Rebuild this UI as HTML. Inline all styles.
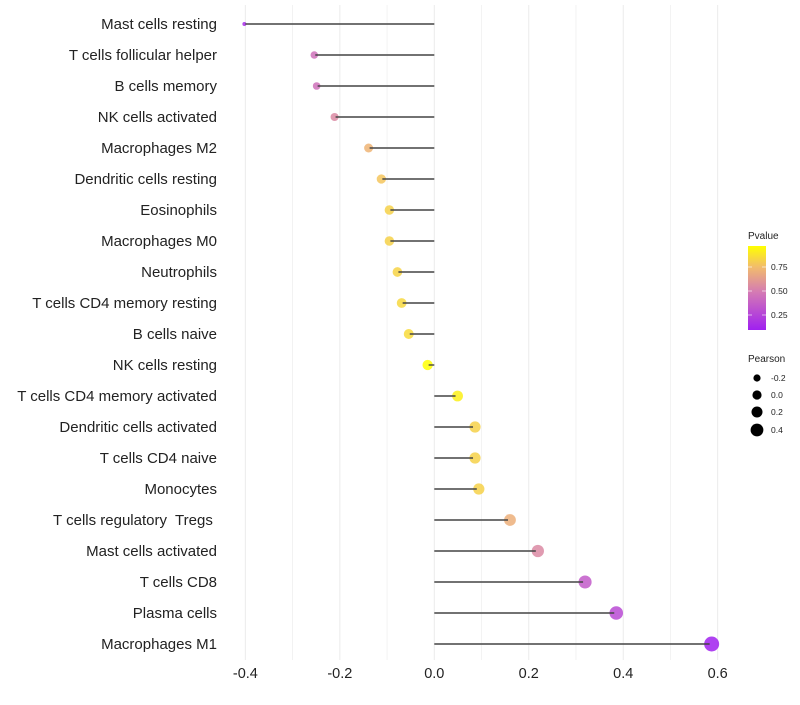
<!DOCTYPE html>
<html><head><meta charset="utf-8"><style>
body{margin:0;background:#fff;}
svg text{font-family:"Liberation Sans",sans-serif;white-space:pre;}
</style></head><body>
<svg id="chart" width="800" height="700" xmlns="http://www.w3.org/2000/svg">
<defs><linearGradient id="pg" x1="0" y1="1" x2="0" y2="0">
<stop offset="0" stop-color="#a020f0"/><stop offset="0.45" stop-color="#d47ab4"/><stop offset="0.75" stop-color="#f2bc6c"/><stop offset="1" stop-color="#ffff00"/></linearGradient></defs>
<g id="grid"></g><g id="marks"></g><g id="labels"></g>
<g>
<text x="748" y="239" font-size="10" fill="#222">Pvalue</text>
<rect x="748" y="246" width="18" height="84" fill="url(#pg)"/>
<g fill="#222" font-size="8.5">
<text x="771" y="270">0.75</text><text x="771" y="294">0.50</text><text x="771" y="318">0.25</text></g>
<g stroke="#fff" stroke-opacity="0.6"><line x1="748" x2="752" y1="267" y2="267"/><line x1="762" x2="766" y1="267" y2="267"/><line x1="748" x2="752" y1="291" y2="291"/><line x1="762" x2="766" y1="291" y2="291"/><line x1="748" x2="752" y1="315" y2="315"/><line x1="762" x2="766" y1="315" y2="315"/></g>
<text x="748" y="362" font-size="10" fill="#222">Pearson</text>
<g fill="#000"><circle cx="757" cy="378" r="3.6"/><circle cx="757" cy="395" r="4.6"/><circle cx="757" cy="412" r="5.5"/><circle cx="757" cy="430" r="6.4"/></g>
<g fill="#222" font-size="8.5"><text x="771" y="381">-0.2</text><text x="771" y="398">0.0</text><text x="771" y="415">0.2</text><text x="771" y="433">0.4</text></g>
</g>
</svg>
<script>
const categories=["Mast cells resting","T cells follicular helper","B cells memory","NK cells activated","Macrophages M2","Dendritic cells resting","Eosinophils","Macrophages M0","Neutrophils","T cells CD4 memory resting","B cells naive","NK cells resting","T cells CD4 memory activated","Dendritic cells activated","T cells CD4 naive","Monocytes","T cells regulatory  Tregs ","Mast cells activated","T cells CD8","Plasma cells","Macrophages M1"];
const pearson=[-0.400,-0.252,-0.247,-0.209,-0.137,-0.110,-0.093,-0.093,-0.076,-0.067,-0.052,-0.012,0.045,0.082,0.082,0.090,0.156,0.215,0.315,0.381,0.583];
const pvalues=[0.15,0.45,0.45,0.55,0.72,0.78,0.82,0.82,0.83,0.84,0.85,0.97,0.92,0.82,0.82,0.82,0.70,0.55,0.35,0.28,0.10];
const xTicks=[-0.4,-0.2,0.0,0.2,0.4,0.6];
const xTickLabels=["-0.4","-0.2","0.0","0.2","0.4","0.6"];
const NS="http://www.w3.org/2000/svg";
const x0=434.3,kx=472.3;
const xs=v=>x0+v*kx;
const ys=i=>24+i*31;
const rs=v=>2+5.5*Math.pow(Math.max(0,(v+0.4)/0.983),0.6);
function lerp(a,b,t){return a+(b-a)*t;}
const stops=[[0.094,[160,32,240]],[0.49,[212,122,180]],[0.75,[242,188,108]],[0.969,[255,255,0]]];
function col(p){p=Math.max(0.094,Math.min(0.969,p));for(let k=0;k<stops.length-1;k++){const[a,ca]=stops[k],[b,cb]=stops[k+1];if(p<=b){const t=(p-a)/(b-a);return `rgb(${ca.map((c,j)=>Math.round(lerp(c,cb[j],t))).join(",")})`;}}return "rgb(255,255,0)";}
function mk(tag,attrs,parent){const e=document.createElementNS(NS,tag);for(const k in attrs)e.setAttribute(k,attrs[k]);parent.appendChild(e);return e;}
const grid=document.getElementById('grid'),marks=document.getElementById('marks'),labels=document.getElementById('labels');
for(let v=-0.4;v<=0.61;v+=0.1){const l=mk('line',{x1:xs(v),x2:xs(v),y1:5,y2:660,stroke:'#ebebeb','stroke-width':Math.abs(Math.round(v*10))%2===0?1:0.6},grid);

}
xTicks.forEach((v,i)=>{const t=mk('text',{x:xs(v),y:678,'font-size':14.5,'text-anchor':'middle',fill:'#222'},labels);t.textContent=xTickLabels[i];

});
categories.forEach((c,i)=>{
const y=ys(i),v=pearson[i];
const t=mk('text',{x:217,y:y+5,'font-size':15,'text-anchor':'end',fill:'#222'},labels);t.textContent=c;


const pt=mk('circle',{cx:xs(v)+(v>0?2:-1),cy:y,r:rs(v),fill:col(pvalues[i]),'fill-opacity':0.85},marks);


const ln=mk('line',{x1:x0,x2:xs(v),y1:y,y2:y,stroke:'#444','stroke-width':1.4},marks);


});
</script>
</body></html>
